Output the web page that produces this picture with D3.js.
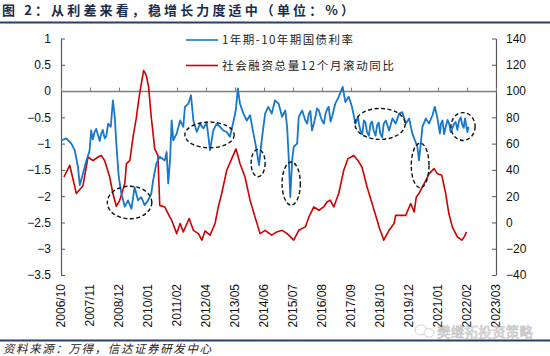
<!DOCTYPE html>
<html><head><meta charset="utf-8">
<script src="https://cdn.jsdelivr.net/npm/d3@7"></script>
<style>body{margin:0;background:#fff}svg{display:block}</style>
</head><body>
<svg id="chart" width="550" height="356"></svg>
<script>
// ---------- DATA ----------
const titleText = "图 2：从利差来看，稳增长力度适中（单位：%）";
const sourceText = "资料来源：万得，信达证券研发中心";
const watermarkText = "樊继拓投资策略";
const seriesNames = ["1年期-10年期国债利率", "社会融资总量12个月滚动同比"];

const xTickLabels = ["2006/10","2007/11","2008/12","2010/01","2011/02","2012/04","2013/05","2014/06",
  "2015/07","2016/08","2017/09","2018/10","2019/12","2021/01","2022/02","2023/03"];
const xDomain = [2006.75, 2023.18];           // decimal years
const leftTicks = [1, 0.5, 0, -0.5, -1, -1.5, -2, -2.5, -3, -3.5];
const rightTicks = [140, 120, 100, 80, 60, 40, 20, 0, -20, -40];

// 1Y-10Y treasury yield spread (left axis, %), dates in decimal years
const spreadDates = [2006.76,2006.95,2007.14,2007.27,2007.39,2007.46,2007.58,2007.71,2007.83,2007.89,
  2008.02,2008.15,2008.27,2008.40,2008.53,2008.63,2008.71,2008.78,2008.84,2008.93,
  2009.03,2009.16,2009.28,2009.41,2009.53,2009.66,2009.78,2009.91,2010.04,2010.16,
  2010.23,2010.35,2010.48,2010.67,2010.74,2010.80,2010.87,2010.93,2010.99,2011.12,
  2011.25,2011.37,2011.43,2011.56,2011.66,2011.75,2011.88,2012.00,2012.13,2012.25,
  2012.38,2012.50,2012.63,2012.76,2012.88,2013.01,2013.13,2013.26,2013.35,2013.43,
  2013.51,2013.64,2013.77,2013.89,2014.02,2014.14,2014.23,2014.33,2014.46,2014.58,
  2014.71,2014.83,2014.97,2015.10,2015.22,2015.29,2015.35,2015.41,2015.48,2015.54,
  2015.67,2015.73,2015.86,2015.98,2016.11,2016.23,2016.36,2016.49,2016.61,2016.74,
  2016.86,2016.99,2017.11,2017.24,2017.39,2017.49,2017.62,2017.74,2017.87,2017.97,
  2018.06,2018.19,2018.31,2018.44,2018.56,2018.69,2018.81,2018.94,2019.02,2019.14,
  2019.27,2019.39,2019.52,2019.64,2019.77,2019.90,2020.02,2020.12,2020.21,2020.27,
  2020.34,2020.40,2020.53,2020.65,2020.78,2020.87,2020.97,2021.06,2021.16,2021.28,
  2021.41,2021.53,2021.66,2021.79,2021.91,2022.01,2022.10,2022.14,
  // additional readings in the choppy stretches
  2007.95,2008.08,2008.21,2008.33,2008.46,
  2016.05,2016.17,2016.30,2016.42,2016.55,2016.68,2016.80,2016.93,2017.05,
  2018.00,2018.13,2018.25,2018.38,2018.50,2018.63,2018.75,2018.88,
  2021.10,2021.22,2021.35,2021.47,2021.60,2021.72,2021.85,2021.96];
const spreadValues = [-0.94,-0.90,-1.00,-1.13,-1.44,-1.79,-1.57,-1.32,-1.13,-0.75,
  -0.78,-0.84,-0.81,-0.90,-0.62,-0.68,-0.18,-0.49,-1.00,-1.63,
  -1.95,-2.20,-2.08,-2.24,-1.83,-2.08,-2.02,-2.17,-2.08,-1.95,
  -1.70,-1.38,-1.25,-1.32,-1.16,-1.76,-1.30,-0.56,-0.94,-0.81,
  -0.56,-0.68,-0.30,-0.24,-0.08,-0.56,-0.78,-0.62,-0.71,-0.59,
  -1.13,-0.75,-0.62,-0.68,-0.75,-0.78,-0.87,-0.59,-0.37,0.05,
  -0.24,-0.43,-0.56,-0.46,-0.81,-1.13,-1.41,-0.94,-0.43,-0.30,
  -0.43,-0.18,-0.24,-0.49,-0.37,-0.68,-1.25,-2.02,-1.32,-1.06,
  -1.00,-0.49,-0.37,-0.56,-0.43,-0.75,-0.49,-0.37,-0.56,-0.43,
  -0.30,-0.49,-0.24,-0.11,0.08,-0.21,-0.11,-0.30,-0.62,-0.49,
  -0.75,-0.56,-0.78,-0.62,-0.75,-0.65,-0.81,-0.62,-0.56,-0.75,
  -0.52,-0.62,-0.43,-0.40,-0.62,-0.52,-0.81,-0.94,-1.06,-1.32,
  -1.00,-0.68,-0.52,-0.62,-0.46,-0.30,-0.52,-0.81,-0.56,-0.68,
  -0.62,-0.71,-0.59,-0.56,-0.65,-0.52,-0.78,-0.68,
  -0.92,-0.72,-0.95,-0.74,-0.86,
  -0.62,-0.38,-0.62,-0.33,-0.48,-0.62,-0.35,-0.58,-0.36,
  -0.62,-0.82,-0.60,-0.85,-0.58,-0.85,-0.60,-0.88,
  -0.62,-0.82,-0.55,-0.78,-0.62,-0.74,-0.50,-0.70];

// Total social financing, 12-month rolling YoY (right axis, %)
const tsfDates = [2006.86,2007.08,2007.33,2007.58,2007.77,2007.96,2008.15,2008.27,2008.40,2008.59,
  2008.71,2008.84,2008.97,2009.16,2009.22,2009.35,2009.47,2009.59,2009.72,2009.87,
  2009.97,2010.06,2010.16,2010.29,2010.41,2010.48,2010.67,2010.86,2010.93,2011.12,
  2011.25,2011.37,2011.59,2011.75,2011.94,2012.07,2012.19,2012.38,2012.57,2012.69,
  2012.82,2013.01,2013.20,2013.36,2013.51,2013.70,2013.89,2014.08,2014.27,2014.46,
  2014.71,2014.90,2015.10,2015.29,2015.54,2015.73,2015.98,2016.11,2016.30,2016.49,
  2016.67,2016.80,2016.92,2017.05,2017.24,2017.43,2017.59,2017.81,2017.97,2018.12,
  2018.31,2018.50,2018.69,2018.78,2018.88,2018.94,2019.14,2019.33,2019.39,2019.58,
  2019.77,2019.96,2020.09,2020.17,2020.27,2020.40,2020.53,2020.65,2020.84,2020.97,
  2021.13,2021.28,2021.40,2021.53,2021.72,2021.89,2021.98,2022.07];
const tsfValues = [34.6,43.5,22,28,49.8,47,49.8,51,47,34.6,
  22,12.3,17,29.6,44.8,47,65,79,98,115.7,
  112,103,80,56,51,13,11.8,4,1.7,-8.5,
  -0.8,-7.2,3,-6,-8.5,-13.5,-6.5,-9.7,-0.8,11.8,
  22,39.7,48.6,56,44.8,34.6,17,4,-8.5,-6,
  -9.7,-7.2,-6,-8.5,-13.5,-6,-3.4,4,11.8,9.3,
  11.8,15.6,17,11.8,22,39.7,48.6,51,47,42,
  27,14.4,1.7,-4.6,-9.7,-13.5,-6,-0.8,5.4,5.4,
  5.4,14.4,8,19.4,22,27,32,37,41,37,
  36,22,6.8,-3.4,-11,-13.5,-11,-7.2];

// Dashed highlight ellipses: [startYear, endYear, topValue, bottomValue] (left-axis units)
const highlightSpans = [
  [2008.50, 2010.18, -1.81, -2.43],
  [2011.43, 2013.29, -0.59, -1.08],
  [2013.93, 2014.46, -1.11, -1.63],
  [2015.10, 2015.79, -1.35, -2.17],
  [2017.85, 2019.75, -0.33, -0.92],
  [2019.98, 2020.65, -0.99, -1.84],
  [2021.48, 2022.39, -0.41, -0.94]
];

// ---------- CHART ----------
const svg = d3.select("#chart");
const plotL = 61, plotR = 496, plotT = 38.5, plotB = 275;
const numFont = "Liberation Sans, Arial, sans-serif";
const cjkFont = "Noto Sans CJK SC, sans-serif";
const navy = "#2b3f66";

const x = d3.scaleLinear().domain(xDomain).range([plotL, plotR]);
const yL = d3.scaleLinear().domain([-3.5, 1]).range([plotB, plotT]);
const yR = d3.scaleLinear().domain([-40, 140]).range([plotB, plotT]);
const fmt = d => d3.format(Number.isInteger(d) ? "d" : ".1f")(d);

// Title and rules
svg.append("text").attr("x", 2).attr("y", 15)
  .attr("font-family", cjkFont).attr("font-weight", "bold").attr("font-size", 13)
  .attr("fill", "#1b2b4b").attr("textLength", 352).attr("lengthAdjust", "spacing")
  .text(titleText);
svg.append("line").attr("x1", 0).attr("x2", 550).attr("y1", 22.5).attr("y2", 22.5)
  .attr("stroke", navy).attr("stroke-width", 2);
svg.append("line").attr("x1", 0).attr("x2", 550).attr("y1", 340.5).attr("y2", 340.5)
  .attr("stroke", navy).attr("stroke-width", 2);
svg.append("text").attr("x", 3).attr("y", 353)
  .attr("font-family", cjkFont).attr("font-style", "italic").attr("font-size", 11.5)
  .attr("fill", "#222").attr("textLength", 208).attr("lengthAdjust", "spacing")
  .text(sourceText);

// Left axis
const gL = svg.append("g").attr("transform", `translate(${plotL},0)`)
  .call(d3.axisLeft(yL).tickValues(leftTicks).tickSize(-4).tickSizeOuter(0).tickPadding(10).tickFormat(fmt));
// Right axis
const gR = svg.append("g").attr("transform", `translate(${plotR},0)`)
  .call(d3.axisRight(yR).tickValues(rightTicks).tickSize(-4).tickSizeOuter(0).tickPadding(10).tickFormat(fmt));
[gL, gR].forEach(g => {
  g.select(".domain").attr("stroke", "#595959").attr("stroke-width", 1.2);
  g.selectAll(".tick line").attr("stroke", "#595959").attr("stroke-width", 1);
  g.selectAll("text").attr("font-family", numFont).attr("font-size", 12).attr("fill", "#111");
});

// Bottom axis labels (rotated) and zero-line axis with upward ticks
const tickPos = d3.range(xTickLabels.length).map(i => xDomain[0] + i * (xDomain[1] - xDomain[0]) / (xTickLabels.length - 1));
const gX = svg.append("g").attr("transform", `translate(0,${yL(0)})`)
  .call(d3.axisBottom(x).tickValues(tickPos).tickSize(-3.5).tickSizeOuter(0).tickFormat(""));
gX.select(".domain").attr("stroke", "#7f7f7f").attr("stroke-width", 1.6);
gX.selectAll(".tick line").attr("stroke", "#7f7f7f").attr("stroke-width", 1);

svg.append("g").selectAll("text").data(tickPos).join("text")
  .attr("transform", d => `translate(${x(d)},${plotB + 9}) rotate(-90)`)
  .attr("text-anchor", "end").attr("dy", "0.35em")
  .attr("font-family", numFont).attr("font-size", 12).attr("fill", "#111")
  .text((d, i) => xTickLabels[i]);

// Lines
const spread = spreadDates.map((d, i) => [d, spreadValues[i]]).sort((a, b) => a[0] - b[0]);
const tsf = tsfDates.map((d, i) => [d, tsfValues[i]]);
svg.append("path").datum(tsf)
  .attr("d", d3.line().x(d => x(d[0])).y(d => yR(d[1])))
  .attr("fill", "none").attr("stroke", "#d00000").attr("stroke-width", 1.6).attr("stroke-linejoin", "round");
svg.append("path").datum(spread)
  .attr("d", d3.line().x(d => x(d[0])).y(d => yL(d[1])))
  .attr("fill", "none").attr("stroke", "#1677cc").attr("stroke-width", 1.8).attr("stroke-linejoin", "round");

// Highlight ellipses
svg.append("g").selectAll("ellipse").data(highlightSpans).join("ellipse")
  .attr("cx", d => (x(d[0]) + x(d[1])) / 2)
  .attr("cy", d => (yL(d[2]) + yL(d[3])) / 2)
  .attr("rx", d => (x(d[1]) - x(d[0])) / 2)
  .attr("ry", d => (yL(d[3]) - yL(d[2])) / 2)
  .attr("fill", "none").attr("stroke", "#111").attr("stroke-width", 1.4).attr("stroke-dasharray", "4,2.5");

// Legend
const legend = svg.append("g");
const legendY = [40, 65.5];
const legendColors = ["#1677cc", "#d00000"];
const legendLen = [131, 172];
seriesNames.forEach((name, i) => {
  legend.append("line").attr("x1", 186).attr("x2", 218).attr("y1", legendY[i]).attr("y2", legendY[i])
    .attr("stroke", legendColors[i]).attr("stroke-width", 1.6);
  legend.append("text").attr("x", 222).attr("y", legendY[i]).attr("dy", "0.36em")
    .attr("font-family", cjkFont).attr("font-size", 11.5).attr("fill", "#222")
    .attr("textLength", legendLen[i]).attr("lengthAdjust", "spacing").text(name);
});

// Watermark
const wm = svg.append("g").attr("opacity", 0.55);
wm.append("ellipse").attr("cx", 421).attr("cy", 330).attr("rx", 6).attr("ry", 5)
  .attr("fill", "none").attr("stroke", "#9a9a9a").attr("stroke-width", 0.8);
wm.append("ellipse").attr("cx", 429).attr("cy", 333).attr("rx", 5).attr("ry", 4.2)
  .attr("fill", "#fff").attr("stroke", "#9a9a9a").attr("stroke-width", 0.8);
wm.append("text").attr("x", 437).attr("y", 337)
  .attr("font-family", cjkFont).attr("font-size", 13.5).attr("fill", "#f0f0f0")
  .attr("stroke", "#8a8a8a").attr("stroke-width", 0.6).attr("textLength", 96).attr("lengthAdjust", "spacing")
  .text(watermarkText);
</script>
</body></html>
